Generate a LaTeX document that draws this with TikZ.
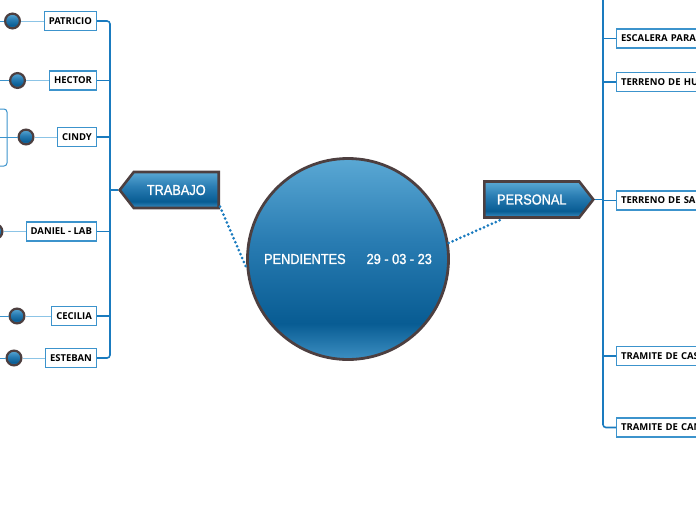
\documentclass[tikz,border=0pt]{standalone}
\usepackage{fontspec}
\setmainfont{Liberation Sans}
\newfontfamily\leaffont{Open Sans}
\newfontfamily\hubfam[FakeStretch=0.88,FakeBold=1.2]{Liberation Sans}
\usetikzlibrary{shapes.symbols}
\definecolor{mapblue}{HTML}{1A7BBF}
\definecolor{mapbluelight}{HTML}{8CC4E6}
\definecolor{boxblue}{HTML}{3C93CC}
\definecolor{rimbrown}{HTML}{4D3F40}
\definecolor{shadetop}{HTML}{5AA8D4}
\definecolor{shademid}{HTML}{2A7DB3}
\definecolor{shadedark}{HTML}{085C93}
\definecolor{shadelow}{HTML}{3D8FC2}
\pgfdeclareverticalshading{mapshade}{100bp}{color(0bp)=(shadelow); color(25bp)=(shadelow);
  color(34bp)=(shadedark); color(55bp)=(shademid); color(75bp)=(shadetop); color(100bp)=(shadetop)}
\newcommand{\labelfont}{\leaffont\fontsize{9.5}{10}\selectfont\bfseries}
\newcommand{\branchfont}{\hubfam\fontsize{14.5}{16}\selectfont}
\newcommand{\leftleaf}[4]{%
  \node[leafbox,anchor=east] (#1) at (97,#2) {#4};
  \node[bullet] (#1dot) at (#3,#2) {};
  \coordinate (#1in) at (-12,#2);
  \draw[twig] (#1dot) -- (#1);
  \draw[feed] (#1in) -- (#1dot);
}
\newcommand{\rightleaf}[3]{%
  \node[leafbox,anchor=west,text width=130pt,align=left] (#1) at (616,#2) {#3};
  \draw[stem] (#1.west) -- (#1.west -| rbus);
}

\begin{document}
\begin{tikzpicture}[x=1pt,y=-1pt,
  leafbox/.style={draw=boxblue,line width=1.2pt,fill=white,inner xsep=4.5pt,inner ysep=0pt,
    minimum height=19pt,font=\labelfont},
  bullet/.style={circle,draw=rimbrown,line width=2.2pt,shading=mapshade,minimum size=14.8pt,inner sep=0pt},
  twig/.style={mapbluelight,line width=1pt},
  feed/.style={boxblue,line width=1pt},
  stem/.style={mapblue,line width=1.6pt},
  branch/.style={signal,draw=rimbrown,line width=2.6pt,shading=mapshade,text=white,font=\branchfont,
    minimum height=36pt,signal pointer angle=104,inner xsep=0pt},
  hub/.style={circle,draw=rimbrown,line width=2.8pt,shading=mapshade,text=white,font=\branchfont,
    minimum size=201pt,inner sep=0pt},
  link/.style={mapblue,line width=3pt,line cap=round,dash pattern=on 0pt off 4.3pt}]
  \useasboundingbox (0,0) rectangle (696,520);
  \clip (0,0) rectangle (696,520);

  \node[hub] (pend) at (348,259) {PENDIENTES\hspace{21pt}29 - 03 - 23};
  \node[branch,signal to=west,anchor=east,minimum width=99pt] (trabajo) at (220,190) {TRABAJO};
  \node[branch,signal to=east,anchor=west,minimum width=109pt] (personal) at (483,199.5) {PERSONAL\hspace{14pt}};
  \draw[link] (trabajo.south east) -- (pend.185);
  \draw[link] (pend.9) -- ([xshift=20pt]personal.south west);

  % left side
  \coordinate (lbus) at (110,190);
  \leftleaf{patricio}{21}{12.5}{PATRICIO}
  \leftleaf{hector}{80.5}{17.5}{HECTOR}
  \leftleaf{cindy}{137}{26}{CINDY}
  \leftleaf{daniel}{231.5}{-5}{DANIEL - LAB}
  \leftleaf{cecilia}{316}{17}{CECILIA}
  \leftleaf{esteban}{358}{14}{ESTEBAN}
  \draw[feed,rounded corners=3pt] (-5,109) -- (7,109) -- (7,166) -- (-5,166);
  \draw[stem,rounded corners=3pt] (patricio.east) -| (lbus) |- (esteban.east);
  \foreach \leaf in {hector,cindy,daniel,cecilia}
    \draw[stem] (\leaf.east) -- (\leaf.east -| lbus);
  \draw[stem] (trabajo.west) -- (lbus);

  % right side
  \coordinate (rbus) at (603,199.5);
  \coordinate (rtop) at (603,-10);
  \rightleaf{escalera}{38.5}{ESCALERA PARA}
  \rightleaf{huerta}{82}{TERRENO DE HU}
  \rightleaf{salon}{200.5}{TERRENO DE SA}
  \rightleaf{casa}{356}{TRAMITE DE CAS}
  \node[leafbox,anchor=west,text width=130pt,align=left] (camino) at (616,427.5) {TRAMITE DE CAN};
  \draw[stem,rounded corners=3pt] (rtop) |- (camino.west);
  \draw[stem] (personal.east) -- (rbus);
\end{tikzpicture}
\end{document}
